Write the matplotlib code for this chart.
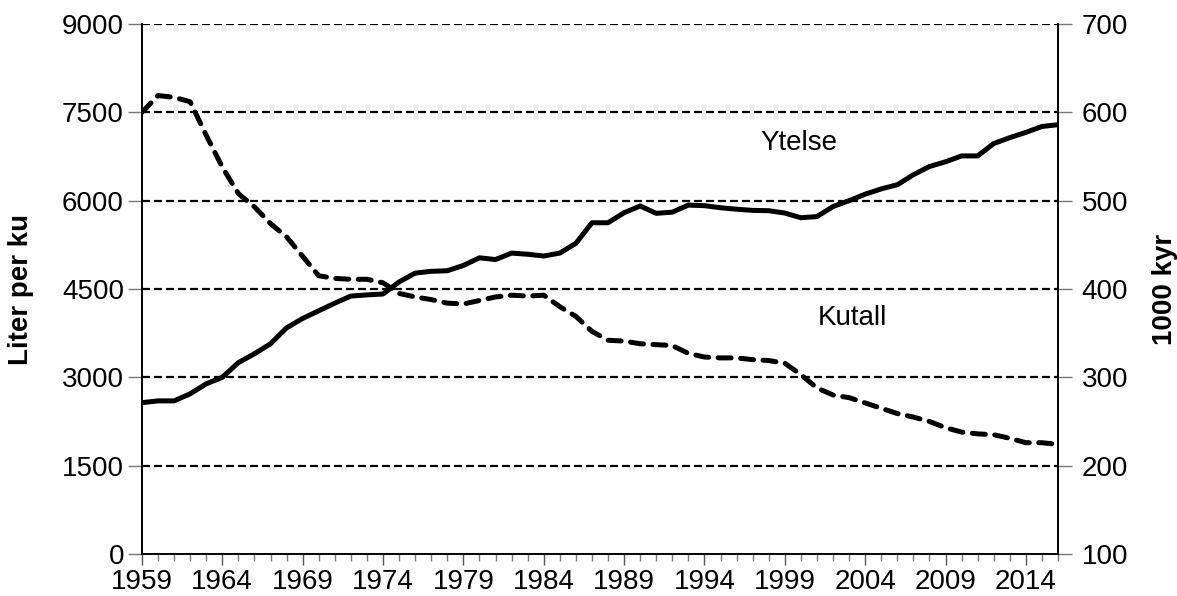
import matplotlib
matplotlib.use("Agg")
import matplotlib.pyplot as plt
from matplotlib.ticker import FixedLocator, MultipleLocator

plt.rcParams["font.family"] = ["Liberation Sans", "DejaVu Sans"]

# data
years = list(range(1959, 2017))
ytelse = [2570, 2600, 2600, 2720, 2890, 3000, 3250, 3400, 3570, 3840,
          4000, 4130, 4260, 4380, 4400, 4415, 4620, 4770, 4800, 4810,
          4900, 5030, 5000, 5110, 5090, 5060, 5110, 5275, 5625, 5625,
          5795, 5910, 5785, 5805, 5925, 5915, 5880, 5855, 5835, 5830,
          5790, 5710, 5730, 5900, 6000, 6110, 6200, 6270, 6440, 6580,
          6660, 6760, 6760, 6970, 7070, 7160, 7260, 7290]
kutall = [600, 619, 617, 612, 574, 538, 508, 493, 474, 459,
          437, 415, 412, 411, 411, 407, 395, 391, 388, 384,
          383, 387, 391, 393, 392, 393, 380, 369, 352, 342,
          341, 338, 337, 336, 327, 323, 322, 322, 320, 319,
          316, 303, 288, 280, 277, 271, 265, 259, 255, 250,
          243, 238, 236, 235, 231, 226, 226, 224]

year_labels = years[::5]
left_ticks = [0, 1500, 3000, 4500, 6000, 7500, 9000]
right_ticks = [100, 200, 300, 400, 500, 600, 700]
fs = 20

fig = plt.figure(figsize=(11.77, 5.96), dpi=100)
ax = fig.add_axes([0.1206, 0.0705, 0.7783, 0.8892])
ax2 = ax.twinx()

ax.set_xlim(1959, 2016)
ax.set_ylim(0, 9000)
ax.set_yticks(left_ticks)
ax2.set_ylim(100, 700)
ax2.set_yticks(right_ticks)

ax.xaxis.set_major_locator(FixedLocator(year_labels))
ax.xaxis.set_minor_locator(MultipleLocator(1))

# horizontal dashed gridlines
for v in left_ticks[1:]:
    ax.axhline(v, color="black", lw=1.6, ls=(0, (3.6, 1.8)), zorder=1)

ax.plot(years, ytelse, color="black", lw=3.6, solid_joinstyle="round", zorder=3)
ax2.plot(years, kutall, color="black", lw=3.6, ls=(0, (2.6, 1.9)),
         dash_capstyle="round", zorder=3)

for a in (ax, ax2):
    a.spines["top"].set_visible(False)
    for s in ("left", "right", "bottom"):
        a.spines[s].set_linewidth(1.2)

ax.tick_params(axis="y", which="major", length=10, width=1, color="#777777",
               labelsize=fs, pad=3)
ax.tick_params(axis="x", which="major", length=8, width=1, color="#555555",
               labelsize=fs, pad=3)
ax.tick_params(axis="x", which="minor", length=5, width=1, color="#777777")
ax2.tick_params(axis="y", which="major", length=10, width=1, color="#777777",
                labelsize=fs, pad=7)

ax.set_ylabel("Liter per ku", fontsize=fs, fontweight="bold", labelpad=20)
ax2.set_ylabel("1000 kyr", fontsize=fs, fontweight="bold", labelpad=17)

ax.text(1999.9, 6980, "Ytelse", fontsize=fs, ha="center", va="center")
ax.text(2003.2, 4010, "Kutall", fontsize=fs, ha="center", va="center")

fig.savefig("out.png", dpi=100)
